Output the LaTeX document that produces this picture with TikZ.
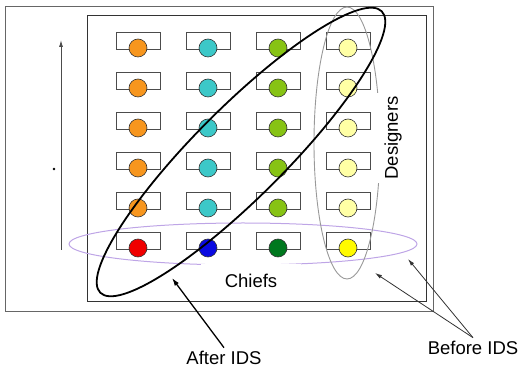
\documentclass[tikz,border=0pt]{standalone}
\usepackage{fontspec}
\setmainfont{Liberation Sans}
\usepackage{tikz}
\usetikzlibrary{arrows.meta}

\definecolor{orangeSeat}{RGB}{247,150,30}
\definecolor{cyanSeat}{RGB}{60,200,200}
\definecolor{limeSeat}{RGB}{135,195,20}
\definecolor{paleSeat}{RGB}{255,255,165}
\definecolor{redSeat}{RGB}{240,0,0}
\definecolor{blueSeat}{RGB}{10,10,225}
\definecolor{greenSeat}{RGB}{0,120,30}
\definecolor{yellowSeat}{RGB}{255,250,0}
\definecolor{chiefLine}{RGB}{190,165,230}

\begin{document}
\begin{tikzpicture}[
            x=1pt, y=-1pt,
            declare function={
                X0 = 138;
                Y0 = 48;
                DX = 70;
                DY = 40;
                R = 9;
            },
            desk/.style={draw=black!70, line width=0.9pt},
            seat/.style={draw=black!80, line width=0.6pt},
            label/.style={font=\fontsize{18.5}{20}\selectfont, fill=white}
        ]
            \useasboundingbox (0,0) rectangle (520,371);

            % frames
            \draw[black!60, line width=1pt] (5,7) rectangle (433,312);
            \draw[black!80, line width=1pt] (87,16) rectangle (426,302);

            \draw[-{Latex[length=7pt, width=4pt]}, black!70, line width=0.9pt] (61,250) -- (61,40);
            \fill (54,169) circle[radius=1.3];

            \foreach \c/\up/\low in {0/orangeSeat/redSeat, 1/cyanSeat/blueSeat,
                                     2/limeSeat/greenSeat, 3/paleSeat/yellowSeat} {
                \foreach \r in {0,1,...,5} {
                    \ifnum\r=5 \def\seatcol{\low}\else\def\seatcol{\up}\fi
                    % desk
                    \draw[desk] ({X0 + DX*\c - 22}, {Y0 + DY*\r - 16})
                        rectangle ({X0 + DX*\c + 22}, {Y0 + DY*\r + 1});
                    % seat
                    \filldraw[seat, fill=\seatcol] ({X0 + DX*\c}, {Y0 + DY*\r}) circle[radius=R];
                }
            }

            % before IDS groups
            \draw[chiefLine, line width=1pt] (243,244) ellipse [x radius=174pt, y radius=21pt];
            \draw[black!40, line width=0.9pt] (347,143) ellipse [x radius=33pt, y radius=136pt];

            \node[label, minimum width=100pt, minimum height=34pt] (chiefs) at (251,281) {Chiefs};
            \node[label, rotate=90, inner xsep=3pt, inner ysep=9pt] (designers) at (393,138) {Designers};

            % after IDS group
            \draw[black, line width=1.8pt, rotate around={45:(241,152)}]
                (241,152) ellipse [x radius=199pt, y radius=45pt];

            \node[label, fill=none] (after) at (224,358) {After IDS};
            \node[label, fill=none] (before) at (473,348) {Before IDS};

            \coordinate (afterTip) at (172,278);
            \coordinate (chiefTip) at (408,259);
            \coordinate (designTip) at (375,273);

            \draw[-{Latex[length=8pt, width=5pt]}, line width=1.3pt] (after.north) -- (afterTip);
            \draw[-{Latex[length=7pt, width=4pt]}, black!80, line width=0.8pt] (before.north) -- (designTip);
            \draw[-{Latex[length=7pt, width=4pt]}, black!80, line width=0.8pt] (before.north) -- (chiefTip);
        \end{tikzpicture}
\end{document}
